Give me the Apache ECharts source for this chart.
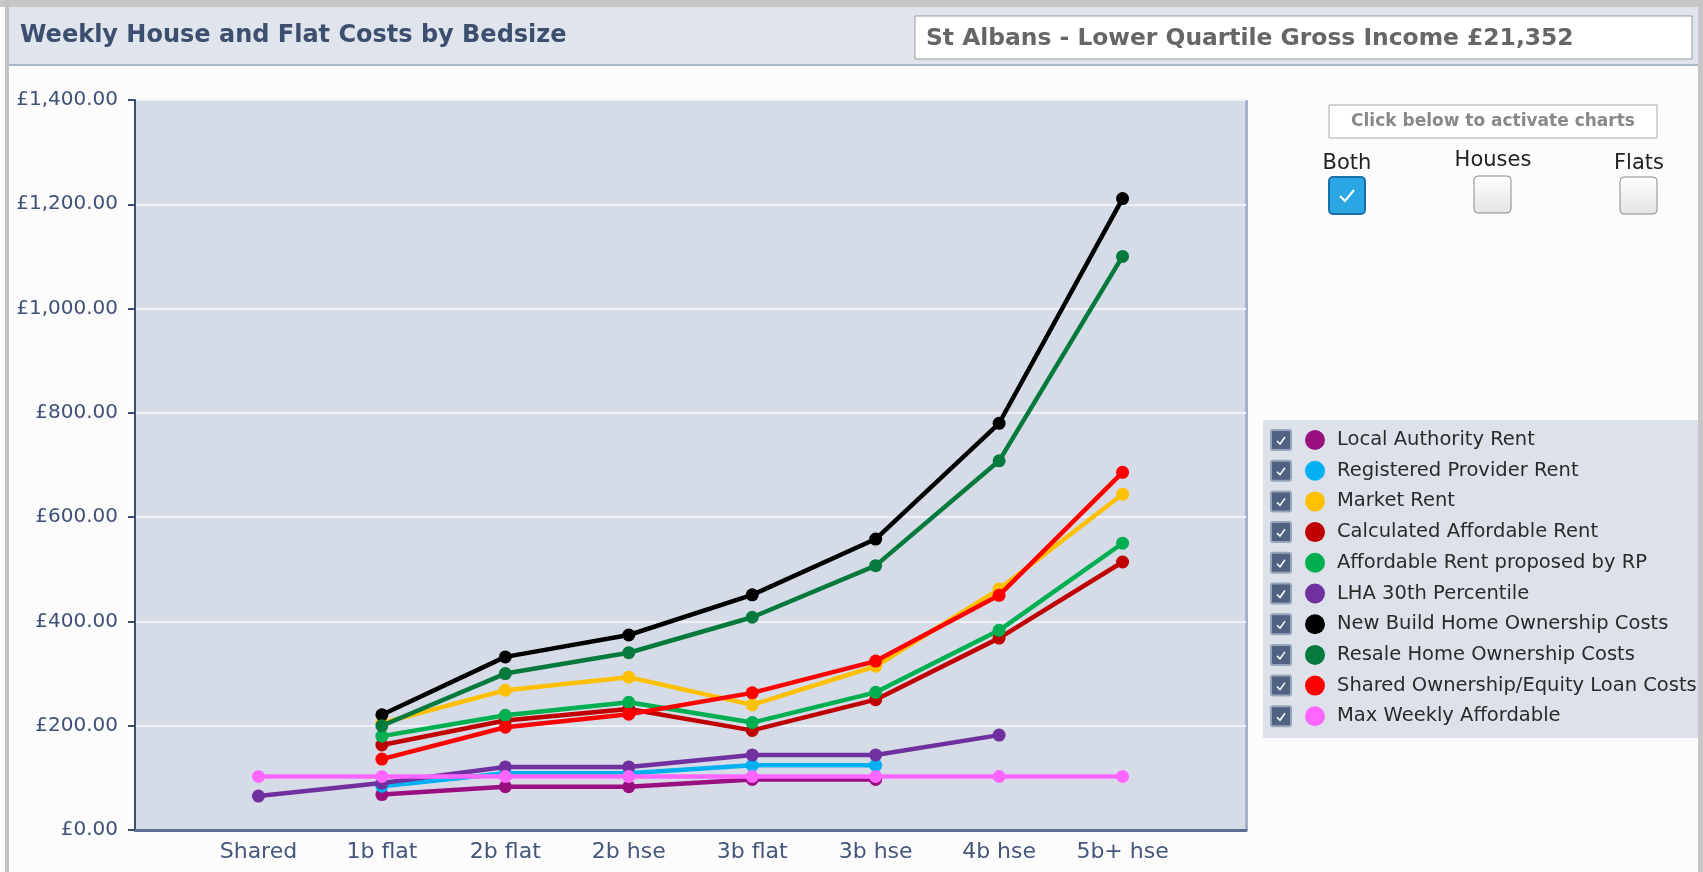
<!DOCTYPE html>
<html>
<head>
<meta charset="utf-8">
<script src="https://cdn.jsdelivr.net/npm/echarts@6/dist/echarts.min.js"></script>
<style>
html,body{margin:0;padding:0;background:#fcfcfc;}
#chart{width:1703px;height:872px;}
</style>
</head>
<body>
<div id="chart"></div>
<script>
// ---- data ----
const categories = ['Shared', '1b flat', '2b flat', '2b hse', '3b flat', '3b hse', '4b hse', '5b+ hse'];
const laRent          = [null, 68, 83, 83, 97, 97, null, null];
const rpRent          = [null, 84, 109, 109, 124, 124, null, null];
const marketRent      = [null, 205, 268, 293, 240, 314, 462, 644];
const calcAffordable  = [null, 163, 210, 232, 191, 250, 368, 514];
const affordableRP    = [null, 180, 220, 245, 206, 264, 383, 550];
const lha30           = [65, 90, 121, 121, 144, 144, 182, null];
const newBuild        = [null, 221, 332, 374, 451, 558, 780, 1211];
const resale          = [null, 200, 300, 340, 408, 507, 708, 1100];
const sharedOwnership = [null, 136, 197, 222, 263, 324, 450, 686];
const maxWeekly       = [102.65, 102.65, 102.65, 102.65, 102.65, 102.65, 102.65, 102.65];
const yTicks = [0, 200, 400, 600, 800, 1000, 1200, 1400];

const seriesNames = ['Local Authority Rent', 'Registered Provider Rent', 'Market Rent',
  'Calculated Affordable Rent', 'Affordable Rent proposed by RP', 'LHA 30th Percentile',
  'New Build Home Ownership Costs', 'Resale Home Ownership Costs',
  'Shared Ownership/Equity Loan Costs', 'Max Weekly Affordable'];
const seriesValues = [laRent, rpRent, marketRent, calcAffordable, affordableRP, lha30,
  newBuild, resale, sharedOwnership, maxWeekly];
const seriesColors = ['#990f80', '#00b0f0', '#ffc000', '#c00000', '#00b050', '#7030a0',
  '#000000', '#057a3c', '#ff0000', '#ff66ff'];

function money(v) {
  const s = v.toFixed(2);
  const parts = s.split('.');
  parts[0] = parts[0].replace(/\B(?=(\d{3})+(?!\d))/g, ',');
  return '£' + parts.join('.');
}

const chart = echarts.init(document.getElementById('chart'));
const FONT = 'DejaVu Sans';

const series = seriesNames.map((name, k) => ({
  name: name,
  type: 'line',
  data: seriesValues[k].map((v, i) => v == null ? null : [i, v]).filter(d => d),
  symbol: 'circle',
  symbolSize: 13,
  showSymbol: true,
  lineStyle: {width: 4.5, color: seriesColors[k]},
  itemStyle: {color: seriesColors[k]},
  animation: false,
  z: 2 + k
}));

// legend row layout
const legendTop = 430, legendGap = 30.7;
const graphics = [
  // outer frame
  {type: 'rect', shape: {x: 0, y: 0, width: 1703, height: 7}, style: {fill: '#c6c6c6'}, silent: true},
  {type: 'rect', shape: {x: 5, y: 0, width: 4, height: 872}, style: {fill: '#c2c2c2'}, silent: true},
  {type: 'rect', shape: {x: 1698, y: 0, width: 5, height: 872}, style: {fill: '#c6c6c6'}, silent: true},
  // header band
  {type: 'rect', shape: {x: 9, y: 7, width: 1689, height: 57}, style: {fill: '#dfe4ed'}, silent: true},
  {type: 'rect', shape: {x: 9, y: 64, width: 1689, height: 2}, style: {fill: '#a9b5c9'}, silent: true},
  {type: 'text', x: 20, y: 36, style: {text: 'Weekly House and Flat Costs by Bedsize', fill: '#3d4f6e',
    font: 'bold 24px "DejaVu Sans"', textVerticalAlign: 'middle'}},
  {type: 'rect', shape: {x: 915, y: 16, width: 777, height: 43}, style: {fill: '#ffffff', stroke: '#9a9a9a', lineWidth: 1}, silent: true},
  {type: 'text', x: 926, y: 39, style: {text: 'St Albans - Lower Quartile Gross Income £21,352', fill: '#666666',
    font: 'bold 23.4px "DejaVu Sans"', textVerticalAlign: 'middle'}},
  // plot right border
  {type: 'rect', shape: {x: 1245, y: 100, width: 3, height: 731}, style: {fill: '#a3b1cb'}, silent: true},
  // control panel
  {type: 'rect', shape: {x: 1329, y: 105, width: 328, height: 33}, style: {fill: '#ffffff', stroke: '#a8a8a8', lineWidth: 1}, silent: true},
  {type: 'text', x: 1493, y: 122, style: {text: 'Click below to activate charts', fill: '#888888',
    font: 'bold 17px "DejaVu Sans"', textAlign: 'center', textVerticalAlign: 'middle'}},
  {type: 'text', x: 1347, y: 164, style: {text: 'Both', fill: '#222', font: '21px "DejaVu Sans"', textAlign: 'center', textVerticalAlign: 'middle'}},
  {type: 'text', x: 1493, y: 161, style: {text: 'Houses', fill: '#222', font: '21px "DejaVu Sans"', textAlign: 'center', textVerticalAlign: 'middle'}},
  {type: 'text', x: 1639, y: 164, style: {text: 'Flats', fill: '#222', font: '21px "DejaVu Sans"', textAlign: 'center', textVerticalAlign: 'middle'}},
  {type: 'rect', shape: {x: 1329, y: 177, width: 36, height: 37, r: 4}, style: {fill: '#2ba6e4', stroke: '#1a6fa8', lineWidth: 2}, silent: true},
  {type: 'polyline', shape: {points: [[1340, 196], [1345, 201], [1354, 190]]}, style: {stroke: '#ffffff', lineWidth: 2, fill: null}, silent: true},
  {type: 'rect', shape: {x: 1474, y: 176, width: 37, height: 37, r: 4},
    style: {fill: new echarts.graphic.LinearGradient(0, 0, 0, 1, [{offset: 0, color: '#ffffff'}, {offset: 1, color: '#e4e4e4'}]), stroke: '#8a8a8a', lineWidth: 1}, silent: true},
  {type: 'rect', shape: {x: 1620, y: 177, width: 37, height: 37, r: 4},
    style: {fill: new echarts.graphic.LinearGradient(0, 0, 0, 1, [{offset: 0, color: '#ffffff'}, {offset: 1, color: '#e4e4e4'}]), stroke: '#8a8a8a', lineWidth: 1}, silent: true},
  // legend panel
  {type: 'rect', shape: {x: 1263, y: 420, width: 435, height: 318}, style: {fill: '#dde2ea'}, silent: true, z: -1}
];
seriesNames.forEach((n, i) => {
  const cy = legendTop + 10 + i * legendGap;
  graphics.push({type: 'rect', shape: {x: 1271, y: cy - 10, width: 20, height: 20, r: 2},
    style: {fill: '#4f6282', stroke: '#97a4ba', lineWidth: 2}, silent: true});
  graphics.push({type: 'polyline', shape: {points: [[1277, cy + 1], [1280, cy + 4], [1285, cy - 3]]},
    style: {stroke: '#ffffff', lineWidth: 1.5, fill: null}, silent: true});
});

chart.setOption({
  backgroundColor: '#fcfcfc',
  animation: false,
  textStyle: {fontFamily: FONT},
  grid: {left: 135, top: 100, width: 1111, height: 730, show: true, backgroundColor: '#d5dce7', borderWidth: 0, containLabel: false},
  legend: {
    orient: 'vertical', left: 1305, top: legendTop, itemWidth: 22, itemHeight: 20, itemGap: 10.7,
    icon: 'circle', selectedMode: false, padding: 0,
    data: seriesNames,
    textStyle: {fontFamily: FONT, fontSize: 19.5, color: '#2a2a2a', lineHeight: 20, padding: [0, 0, 0, 6]}
  },
  xAxis: {
    type: 'value', min: -1, max: 8, interval: 1,
    axisLine: {show: true, onZero: false, lineStyle: {color: '#5d7094', width: 3}},
    axisTick: {show: false},
    splitLine: {show: false},
    axisLabel: {
      color: '#44567a', fontSize: 22, fontFamily: FONT, margin: 11,
      formatter: v => (v >= 0 && v < categories.length) ? categories[v] : ''
    }
  },
  yAxis: {
    type: 'value', min: yTicks[0], max: yTicks[yTicks.length - 1], interval: 200,
    axisLine: {show: true, onZero: false, lineStyle: {color: '#3d4f6e', width: 2}},
    axisTick: {show: true, length: 7, lineStyle: {color: '#3d4f6e', width: 2}},
    splitLine: {show: true, lineStyle: {color: '#eef1f6', width: 2}},
    axisLabel: {color: '#3f5176', fontSize: 20, fontFamily: FONT, margin: 17, formatter: v => money(v)}
  },
  graphic: graphics,
  series: series
});
</script>
</body>
</html>
